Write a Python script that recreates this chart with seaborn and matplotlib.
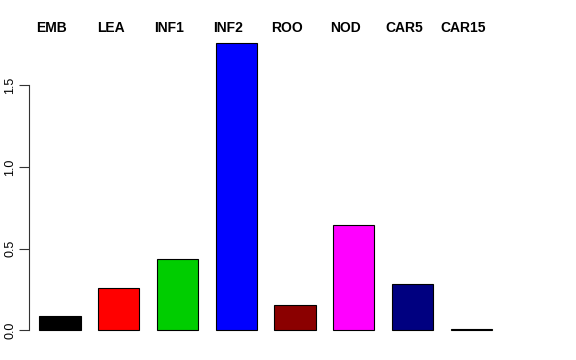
import matplotlib
matplotlib.use("Agg")
import matplotlib.pyplot as plt
import seaborn as sns
import pandas as pd

tissues = ["EMB", "LEA", "INF1", "INF2", "ROO", "NOD", "CAR5", "CAR15"]
values = [0.086, 0.26, 0.435, 1.76, 0.155, 0.645, 0.285, 0.004]
colors = ["#000000", "#FF0000", "#00CD00", "#0000FF", "#8B0000", "#FF00FF", "#000080", "#FFFF00"]
yticks = [0.0, 0.5, 1.0, 1.5]

df = pd.DataFrame({"tissue": tissues, "value": values})

sns.set_style("white")
plt.rcParams["font.family"] = ["Liberation Sans", "DejaVu Sans"]
plt.rcParams["text.color"] = "black"
plt.rcParams["ytick.color"] = "black"

fig = plt.figure(figsize=(5.76, 3.6), dpi=100)
# axes placed in pixel terms: left spine at x=29, zero line near y=330
ax = fig.add_axes([29 / 576, (360 - 338) / 360, (530 - 29) / 576, (338 - 35) / 360])

sns.barplot(data=df, x="tissue", y="value", hue="tissue", palette=colors,
            saturation=1, width=0.7, edgecolor="black", linewidth=0.8,
            legend=False, ax=ax)

ax.set_xlim(-0.528, 8.0)
ax.set_ylim(-8 / 163, (330 - 35) / 163)
ax.set_xlabel("")
ax.set_ylabel("")
ax.set_xticks([])

for side in ["top", "right", "bottom"]:
    ax.spines[side].set_visible(False)
ax.spines["left"].set_bounds(0, 1.5)
ax.spines["left"].set_color("#333333")
ax.spines["left"].set_linewidth(0.8)

ax.set_yticks(yticks)
ax.set_yticklabels([f"{t:.1f}" for t in yticks], rotation=90, va="center", fontsize=9)
ax.tick_params(axis="y", left=True, length=7, width=0.8, color="#333333", pad=2)

for i, name in enumerate(tissues):
    ax.text(i - 0.14, 1 + 7 / 303, name, transform=ax.get_xaxis_transform(),
            ha="center", va="center", fontsize=10, fontweight="bold")

fig.savefig("out.png", dpi=100)
